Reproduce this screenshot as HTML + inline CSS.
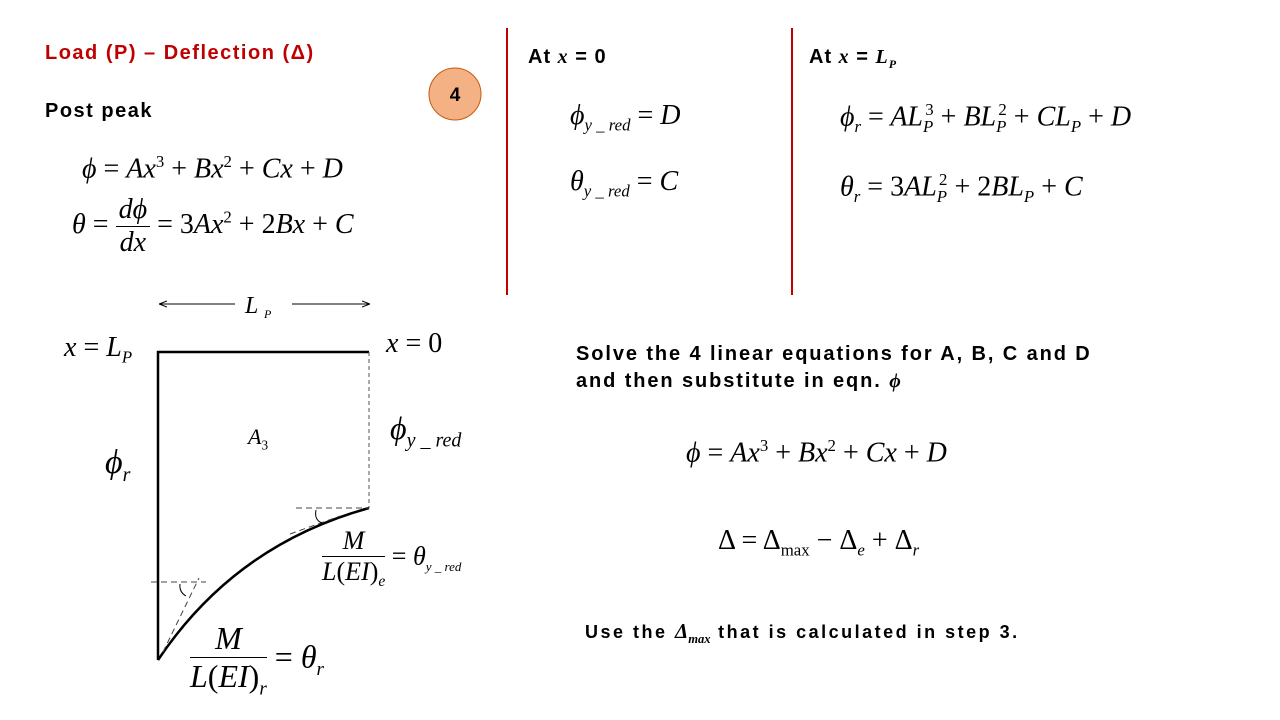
<!DOCTYPE html>
<html><head><meta charset="utf-8"><style>
body{margin:0;width:1280px;height:720px;background:#fff;position:relative;overflow:hidden;font-family:"Liberation Sans",sans-serif}
.t{position:absolute;white-space:nowrap}
.b{font-weight:bold;font-size:20px;color:#000;letter-spacing:1.5px}
.m{font-family:"Liberation Serif",serif;font-style:italic;font-size:28px;color:#000}
.u{font-style:normal}
sub,sup{font-size:60%}
.fr{display:inline-block;vertical-align:middle;text-align:center}
.fr>span{display:block}
.fr>.n{border-bottom:1.5px solid #000;padding:0 3px}
</style></head><body>
<div class="t b" style="left:45px;top:42px;color:#c00000">Load (P) – Deflection (Δ)</div>
<div class="t b" style="left:45px;top:100px">Post peak</div>
<svg style="position:absolute;left:426px;top:66px" width="58" height="58"><circle cx="29" cy="28" r="26" fill="#f4b183" stroke="#c55a11" stroke-width="1"/><text x="29" y="35" font-family="Liberation Sans" font-weight="bold" font-size="19" text-anchor="middle">4</text></svg>
<div class="t m" style="left:82px;top:152px">ϕ <span class="u">=</span> Ax<sup class="u">3</sup> <span class="u">+</span> Bx<sup class="u">2</sup> <span class="u">+</span> Cx <span class="u">+</span> D</div>
<div class="t m" style="left:72px;top:194px">θ <span class="u">=</span> <span class="fr"><span class="n">dϕ</span><span>dx</span></span> <span class="u">=</span> <span class="u">3</span>Ax<sup class="u">2</sup> <span class="u">+</span> <span class="u">2</span>Bx <span class="u">+</span> C</div>
<div style="position:absolute;left:506px;top:28px;width:2px;height:267px;background:#c00000"></div>
<div style="position:absolute;left:791px;top:28px;width:2px;height:267px;background:#c00000"></div>
<div class="t b" style="left:528px;top:46px;letter-spacing:1px">At <i style="font-family:'Liberation Serif',serif">x</i> = 0</div>
<div class="t m" style="left:570px;top:100px">ϕ<sub>y _ red</sub> <span class="u">=</span> D</div>
<div class="t m" style="left:570px;top:166px">θ<sub>y _ red</sub> <span class="u">=</span> C</div>
<div class="t b" style="left:809px;top:46px;letter-spacing:1px">At <i style="font-family:'Liberation Serif',serif">x</i> = <i style="font-family:'Liberation Serif',serif">L<sub>P</sub></i></div>
<div class="t m" style="left:840px;top:100px">ϕ<sub>r</sub> <span class="u">=</span> AL<sub>P</sub><sup class="u" style="margin-left:-8px">3</sup> <span class="u">+</span> BL<sub>P</sub><sup class="u" style="margin-left:-8px">2</sup> <span class="u">+</span> CL<sub>P</sub> <span class="u">+</span> D</div>
<div class="t m" style="left:840px;top:170px">θ<sub>r</sub> <span class="u">=</span> <span class="u">3</span>AL<sub>P</sub><sup class="u" style="margin-left:-8px">2</sup> <span class="u">+</span> <span class="u">2</span>BL<sub>P</sub> <span class="u">+</span> C</div>
<div class="t b" style="left:576px;top:341px;line-height:27px;letter-spacing:1.9px">Solve the 4 linear equations for A, B, C and D<br>and then substitute in eqn. <i style="font-family:'Liberation Serif',serif">ϕ</i></div>
<div class="t m" style="left:686px;top:436px">ϕ <span class="u">=</span> Ax<sup class="u">3</sup> <span class="u">+</span> Bx<sup class="u">2</sup> <span class="u">+</span> Cx <span class="u">+</span> D</div>
<div class="t m" style="left:718px;top:525px"><span class="u">Δ = Δ<sub>max</sub> − Δ</span><sub>e</sub> <span class="u">+ Δ</span><sub>r</sub></div>
<div class="t b" style="left:585px;top:619px;font-size:18px;letter-spacing:2.5px">Use the <i style="font-family:'Liberation Serif',serif;font-size:21px;letter-spacing:0">Δ<sub>max</sub></i> that is calculated in step 3.</div>
<svg style="position:absolute;left:0;top:0" width="1280" height="720">
<defs><marker id="ar" markerWidth="8" markerHeight="8" refX="7" refY="4" orient="auto"><path d="M0,1 L8,4 L0,7" fill="none" stroke="#000"/></marker></defs>
<line x1="235" y1="304" x2="160" y2="304" stroke="#000" marker-end="url(#ar)"/>
<line x1="292" y1="304" x2="369" y2="304" stroke="#000" marker-end="url(#ar)"/>
<text x="245" y="313" font-family="Liberation Serif" font-style="italic" font-size="24">L</text><text x="264" y="318" font-family="Liberation Serif" font-style="italic" font-size="12">P</text>
<path d="M158,660 L158,352 L369,352" fill="none" stroke="#000" stroke-width="2.5"/>
<line x1="369" y1="352" x2="369" y2="508" stroke="#555" stroke-dasharray="4,3"/>
<path d="M158,660 Q235,545 369,508" fill="none" stroke="#000" stroke-width="2.5"/>
<line x1="296" y1="508" x2="369" y2="508" stroke="#444" stroke-dasharray="6,4"/>
<line x1="290" y1="534" x2="340" y2="516" stroke="#444" stroke-dasharray="6,4"/>
<line x1="151" y1="582" x2="206" y2="582" stroke="#444" stroke-dasharray="6,4"/>
<line x1="163" y1="652" x2="199" y2="578" stroke="#444" stroke-dasharray="6,4"/>
<path d="M316,510 Q314,520 322,523" fill="none" stroke="#000"/>
<path d="M180,584 Q179,592 186,596" fill="none" stroke="#000"/>
</svg>
<div class="t m" style="left:64px;top:332px"><span>x</span> <span class="u">=</span> L<sub>P</sub></div>
<div class="t m" style="left:386px;top:328px">x <span class="u">= 0</span></div>
<div class="t m" style="left:248px;top:424px;font-size:22px">A<sub class="u">3</sub></div>
<div class="t m" style="left:390px;top:410px;font-size:32px">ϕ<sub style="font-size:20px">y _ red</sub></div>
<div class="t m" style="left:105px;top:444px;font-size:34px">ϕ<sub style="font-size:20px">r</sub></div>
<div class="t m" style="left:322px;top:526px;font-size:26px"><span class="fr"><span class="n">M</span><span>L<span class="u">(</span>EI<span class="u">)</span><sub>e</sub></span></span> <span class="u">=</span> θ<sub style="font-size:13px">y _ red</sub></div>
<div class="t m" style="left:190px;top:620px;font-size:32px"><span class="fr"><span class="n">M</span><span>L<span class="u">(</span>EI<span class="u">)</span><sub>r</sub></span></span> <span class="u">=</span> θ<sub>r</sub></div>
</body></html>
